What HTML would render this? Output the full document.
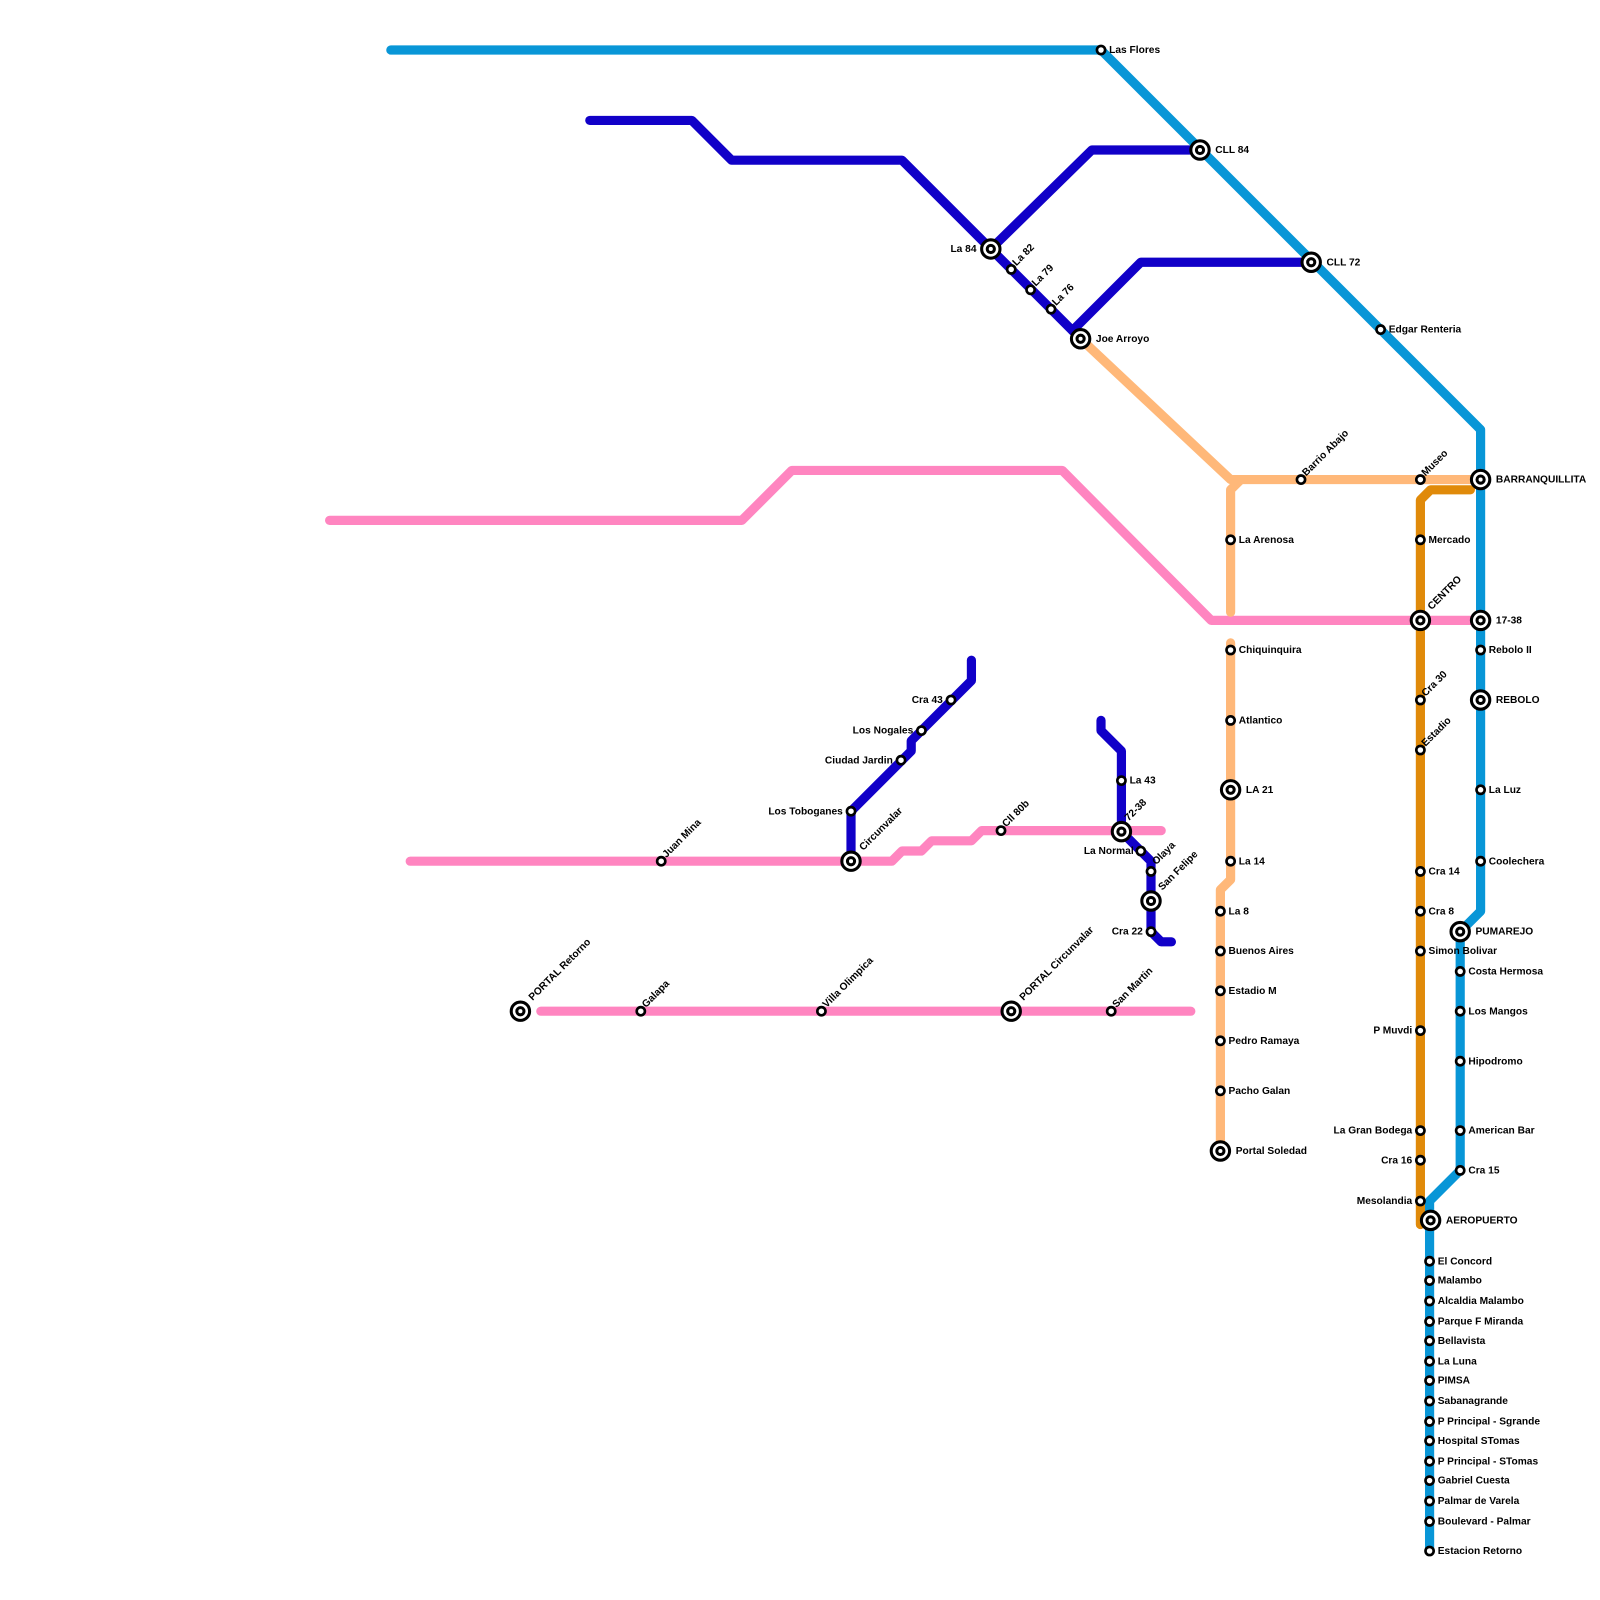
<!DOCTYPE html>
<html><head><meta charset="utf-8"><style>
html,body{margin:0;padding:0;background:#fff}
svg{display:block}
text{font-family:"Liberation Sans",Arial,sans-serif;font-weight:bold;font-size:10px;fill:#000}
.l{fill:none;stroke-width:9;stroke-linecap:round;stroke-linejoin:round}
.s{fill:#fff;stroke:#000;stroke-width:2.6}
.e{text-anchor:end}
</style></head><body>
<svg width="1600" height="1600" viewBox="0 0 1600 1600" xmlns="http://www.w3.org/2000/svg">
<g transform="scale(1.0204)">
<!-- blue -->
<polyline class="l" stroke="#0896d7" points="383,49 1079,49 1451,421 1451,893 1431,913 1431,1147 1401,1177 1401,1520"/>
<!-- pink -->
<polyline class="l" stroke="#ff85c0" points="323,510 727,510 776,461 1041,461 1187,608 1451,608"/>
<polyline class="l" stroke="#ff85c0" points="402,844 874,844 884,834 903,834 913,824 952,824 962,814 1138,814"/>
<polyline class="l" stroke="#ff85c0" points="530,991 1167,991"/>
<!-- light orange -->
<polyline class="l" stroke="#ffb879" points="1059,332 1206,470 1451,470"/>
<polyline class="l" stroke="#ffb879" points="1216,470 1206,480 1206,600"/>
<polyline class="l" stroke="#ffb879" points="1206,630 1206,862 1196,872 1196,1128"/>
<!-- dark orange -->
<polyline class="l" stroke="#e08a0a" points="1441,480 1402,480 1392,490 1392,1200"/>
<!-- dark blue -->
<polyline class="l" stroke="#1100c8" points="578,118 678,118 717,157 884,157 971,244 1051,324 1059,332"/>
<polyline class="l" stroke="#1100c8" points="971,244 1070,147 1176,147"/>
<polyline class="l" stroke="#1100c8" points="1051,324 1118,257 1285,257"/>
<polyline class="l" stroke="#1100c8" points="952,647 952,667 893,726 893,736 834,795 834,844"/>
<polyline class="l" stroke="#1100c8" points="1079,706 1079,716 1099,736 1099,815 1128,844 1128,913 1138,923 1148,923"/>

<!-- interchanges -->
<g fill="#fff" stroke="#000" stroke-width="3">
<circle cx="1176" cy="147" r="9"/><circle cx="1176" cy="147" r="3.5"/>
<circle cx="1285" cy="257" r="9"/><circle cx="1285" cy="257" r="3.5"/>
<circle cx="971" cy="244" r="9"/><circle cx="971" cy="244" r="3.5"/>
<circle cx="1059" cy="332" r="9"/><circle cx="1059" cy="332" r="3.5"/>
<circle cx="1451" cy="470" r="9"/><circle cx="1451" cy="470" r="3.5"/>
<circle cx="1392" cy="608" r="9"/><circle cx="1392" cy="608" r="3.5"/>
<circle cx="1451" cy="608" r="9"/><circle cx="1451" cy="608" r="3.5"/>
<circle cx="1451" cy="686" r="9"/><circle cx="1451" cy="686" r="3.5"/>
<circle cx="1206" cy="774" r="9"/><circle cx="1206" cy="774" r="3.5"/>
<circle cx="1099" cy="815" r="9"/><circle cx="1099" cy="815" r="3.5"/>
<circle cx="1128" cy="883" r="9"/><circle cx="1128" cy="883" r="3.5"/>
<circle cx="834" cy="844" r="9"/><circle cx="834" cy="844" r="3.5"/>
<circle cx="1431" cy="913" r="9"/><circle cx="1431" cy="913" r="3.5"/>
<circle cx="510" cy="991" r="9"/><circle cx="510" cy="991" r="3.5"/>
<circle cx="991" cy="991" r="9"/><circle cx="991" cy="991" r="3.5"/>
<circle cx="1196" cy="1128" r="9"/><circle cx="1196" cy="1128" r="3.5"/>
<circle cx="1402" cy="1196" r="9"/><circle cx="1402" cy="1196" r="3.5"/>
</g>
<!-- small stations -->
<g class="s">
<circle cx="1079" cy="49" r="4"/><circle cx="991" cy="264" r="4"/><circle cx="1010" cy="284" r="4"/><circle cx="1030" cy="303" r="4"/>
<circle cx="1353" cy="323" r="4"/><circle cx="1275" cy="470" r="4"/><circle cx="1392" cy="470" r="4"/>
<circle cx="1206" cy="529" r="4"/><circle cx="1392" cy="529" r="4"/>
<circle cx="1206" cy="637" r="4"/><circle cx="1451" cy="637" r="4"/><circle cx="1392" cy="686" r="4"/>
<circle cx="1206" cy="706" r="4"/><circle cx="1392" cy="735" r="4"/>
<circle cx="932" cy="686" r="4"/><circle cx="903" cy="716" r="4"/><circle cx="883" cy="745" r="4"/><circle cx="834" cy="795" r="4"/>
<circle cx="1099" cy="765" r="4"/><circle cx="1451" cy="774" r="4"/><circle cx="981" cy="814" r="4"/>
<circle cx="1118" cy="834" r="4"/><circle cx="1128" cy="854" r="4"/><circle cx="1206" cy="844" r="4"/><circle cx="1451" cy="844" r="4"/>
<circle cx="648" cy="844" r="4"/><circle cx="1392" cy="854" r="4"/>
<circle cx="1196" cy="893" r="4"/><circle cx="1392" cy="893" r="4"/><circle cx="1128" cy="913" r="4"/>
<circle cx="1196" cy="932" r="4"/><circle cx="1392" cy="932" r="4"/><circle cx="1431" cy="952" r="4"/>
<circle cx="1196" cy="971" r="4"/><circle cx="628" cy="991" r="4"/><circle cx="805" cy="991" r="4"/><circle cx="1089" cy="991" r="4"/><circle cx="1431" cy="991" r="4"/>
<circle cx="1392" cy="1010" r="4"/><circle cx="1196" cy="1020" r="4"/><circle cx="1431" cy="1040" r="4"/>
<circle cx="1196" cy="1069" r="4"/><circle cx="1392" cy="1108" r="4"/><circle cx="1431" cy="1108" r="4"/>
<circle cx="1392" cy="1137" r="4"/><circle cx="1431" cy="1147" r="4"/><circle cx="1392" cy="1177" r="4"/>
<circle cx="1401" cy="1236" r="4"/><circle cx="1401" cy="1255" r="4"/><circle cx="1401" cy="1275" r="4"/><circle cx="1401" cy="1295" r="4"/>
<circle cx="1401" cy="1314" r="4"/><circle cx="1401" cy="1334" r="4"/><circle cx="1401" cy="1353" r="4"/><circle cx="1401" cy="1373" r="4"/>
<circle cx="1401" cy="1393" r="4"/><circle cx="1401" cy="1412" r="4"/><circle cx="1401" cy="1432" r="4"/><circle cx="1401" cy="1451" r="4"/>
<circle cx="1401" cy="1471" r="4"/><circle cx="1401" cy="1491" r="4"/><circle cx="1401" cy="1520" r="4"/>
</g>

<!-- labels right -->
<text x="1087" y="52">Las Flores</text>
<text x="1191" y="150">CLL 84</text>
<text x="1300" y="260">CLL 72</text>
<text x="1361" y="326">Edgar Renteria</text>
<text x="1074" y="335">Joe Arroyo</text>
<text x="1466" y="473">BARRANQUILLITA</text>
<text x="1214" y="532">La Arenosa</text>
<text x="1400" y="532">Mercado</text>
<text x="1466" y="611">17-38</text>
<text x="1214" y="640">Chiquinquira</text>
<text x="1459" y="640">Rebolo II</text>
<text x="1466" y="689">REBOLO</text>
<text x="1214" y="709">Atlantico</text>
<text x="1107" y="768">La 43</text>
<text x="1459" y="777">La Luz</text>
<text x="1221" y="777">LA 21</text>
<text x="1214" y="847">La 14</text>
<text x="1459" y="847">Coolechera</text>
<text x="1400" y="857">Cra 14</text>
<text x="1204" y="896">La 8</text>
<text x="1400" y="896">Cra 8</text>
<text x="1446" y="916">PUMAREJO</text>
<text x="1204" y="935">Buenos Aires</text>
<text x="1400" y="935">Simon Bolivar</text>
<text x="1439" y="955">Costa Hermosa</text>
<text x="1204" y="974">Estadio M</text>
<text x="1439" y="994">Los Mangos</text>
<text x="1204" y="1023">Pedro Ramaya</text>
<text x="1439" y="1043">Hipodromo</text>
<text x="1204" y="1072">Pacho Galan</text>
<text x="1439" y="1111">American Bar</text>
<text x="1211" y="1131">Portal Soledad</text>
<text x="1439" y="1150">Cra 15</text>
<text x="1417" y="1199">AEROPUERTO</text>
<text x="1409" y="1239">El Concord</text>
<text x="1409" y="1258">Malambo</text>
<text x="1409" y="1278">Alcaldia Malambo</text>
<text x="1409" y="1298">Parque F Miranda</text>
<text x="1409" y="1317">Bellavista</text>
<text x="1409" y="1337">La Luna</text>
<text x="1409" y="1356">PIMSA</text>
<text x="1409" y="1376">Sabanagrande</text>
<text x="1409" y="1396">P Principal - Sgrande</text>
<text x="1409" y="1415">Hospital STomas</text>
<text x="1409" y="1435">P Principal - STomas</text>
<text x="1409" y="1454">Gabriel Cuesta</text>
<text x="1409" y="1474">Palmar de Varela</text>
<text x="1409" y="1494">Boulevard - Palmar</text>
<text x="1409" y="1523">Estacion Retorno</text>
<!-- labels left -->
<text class="e" x="957" y="247">La 84</text>
<text class="e" x="924" y="689">Cra 43</text>
<text class="e" x="895" y="719">Los Nogales</text>
<text class="e" x="875" y="748">Ciudad Jardin</text>
<text class="e" x="826" y="798">Los Toboganes</text>
<text class="e" x="1111" y="837">La Normal</text>
<text class="e" x="1120" y="916">Cra 22</text>
<text class="e" x="1384" y="1013">P Muvdi</text>
<text class="e" x="1384" y="1111">La Gran Bodega</text>
<text class="e" x="1384" y="1140">Cra 16</text>
<text class="e" x="1384" y="1180">Mesolandia</text>
<!-- rotated -->
<text transform="translate(996,261) rotate(-45)">La 82</text>
<text transform="translate(1015,281) rotate(-45)">La 79</text>
<text transform="translate(1035,300) rotate(-45)">La 76</text>
<text transform="translate(1280,467) rotate(-45)">Barrio Abajo</text>
<text transform="translate(1397,467) rotate(-45)">Museo</text>
<text transform="translate(1403,598) rotate(-45)">CENTRO</text>
<text transform="translate(1397,683) rotate(-45)">Cra 30</text>
<text transform="translate(1397,732) rotate(-45)">Estadio</text>
<text transform="translate(1106,805) rotate(-45)">72-38</text>
<text transform="translate(1133,848) rotate(-45)">Olaya</text>
<text transform="translate(1139,873) rotate(-45)">San Felipe</text>
<text transform="translate(986,811) rotate(-45)">Cll 80b</text>
<text transform="translate(846,834) rotate(-45)">Circunvalar</text>
<text transform="translate(653,841) rotate(-45)">Juan Mina</text>
<text transform="translate(522,981) rotate(-45)">PORTAL Retorno</text>
<text transform="translate(633,988) rotate(-45)">Galapa</text>
<text transform="translate(810,988) rotate(-45)">Villa Olimpica</text>
<text transform="translate(1003,981) rotate(-45)">PORTAL Circunvalar</text>
<text transform="translate(1094,988) rotate(-45)">San Martin</text>
</g>
</svg>
</body></html>
